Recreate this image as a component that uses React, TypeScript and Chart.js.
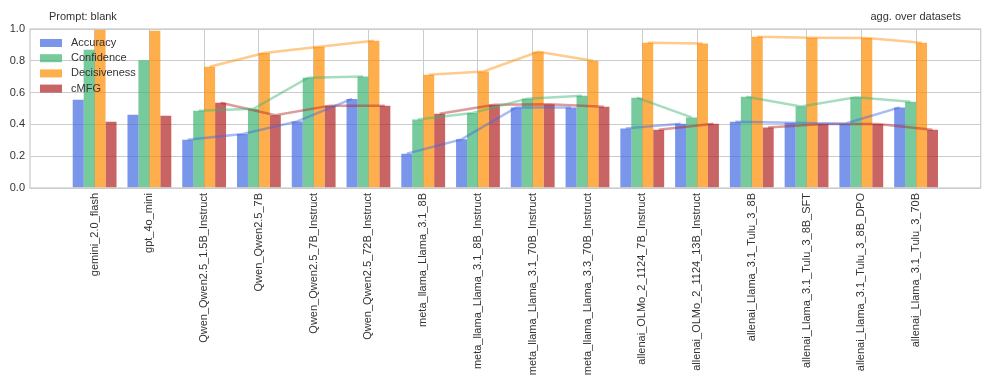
import React, { useEffect, useRef } from "react";
import { Chart, registerables } from "chart.js";

Chart.register(...registerables);

const categories = [
  "gemini_2.0_flash",
  "gpt_4o_mini",
  "Qwen_Qwen2.5_1.5B_Instruct",
  "Qwen_Qwen2.5_7B",
  "Qwen_Qwen2.5_7B_Instruct",
  "Qwen_Qwen2.5_72B_Instruct",
  "meta_llama_Llama_3.1_8B",
  "meta_llama_Llama_3.1_8B_Instruct",
  "meta_llama_Llama_3.1_70B_Instruct",
  "meta_llama_Llama_3.3_70B_Instruct",
  "allenai_OLMo_2_1124_7B_Instruct",
  "allenai_OLMo_2_1124_13B_Instruct",
  "allenai_Llama_3.1_Tulu_3_8B",
  "allenai_Llama_3.1_Tulu_3_8B_SFT",
  "allenai_Llama_3.1_Tulu_3_8B_DPO",
  "allenai_Llama_3.1_Tulu_3_70B",
];

const families = [
  "gemini", "gpt",
  "qwen", "qwen", "qwen", "qwen",
  "llama", "llama", "llama", "llama",
  "olmo", "olmo",
  "tulu", "tulu", "tulu", "tulu",
];

const accuracy = [0.555, 0.461, 0.304, 0.340, 0.419, 0.560, 0.216, 0.306, 0.507, 0.507, 0.375, 0.404, 0.417, 0.411, 0.404, 0.507];
const confidence = [0.870, 0.803, 0.486, 0.498, 0.694, 0.702, 0.431, 0.472, 0.562, 0.580, 0.568, 0.444, 0.574, 0.513, 0.570, 0.543];
const decisiveness = [0.996, 0.989, 0.763, 0.849, 0.889, 0.926, 0.713, 0.733, 0.857, 0.800, 0.913, 0.909, 0.951, 0.945, 0.943, 0.913];
const cmfg = [0.417, 0.455, 0.536, 0.457, 0.518, 0.518, 0.467, 0.524, 0.526, 0.511, 0.367, 0.404, 0.381, 0.402, 0.402, 0.367];

const seriesNames = ["Accuracy", "Confidence", "Decisiveness", "cMFG"];
const seriesValues = [accuracy, confidence, decisiveness, cmfg];
const seriesRGB = ["65,105,225", "60,179,113", "255,140,0", "178,34,34"];

const yTicks = [0, 0.2, 0.4, 0.6, 0.8, 1.0];

const leftTitle = "Prompt: blank";
const rightTitle = "agg. over datasets";

const FONT = "'Liberation Sans', Arial, sans-serif";
const TEXT = "#333333";
const GRID = "#cccccc";
const BAR_W = 0.2; // in category units (0.8 / 4)

export default function App() {
  const ref = useRef<HTMLCanvasElement | null>(null);

  useEffect(() => {
    if (!ref.current) return;

    const barSets = seriesValues.map((vals, k) => ({
      type: "bar" as const,
      label: seriesNames[k],
      data: vals.map((v, i) => ({ x: i, y: v })),
      backgroundColor: `rgba(${seriesRGB[k]},0.7)`,
      borderWidth: 0,
      categoryPercentage: 0.8,
      barPercentage: 1.0,
      order: 1,
    }));

    const lineSets = seriesValues.map((vals, k) => {
      const off = (k - 1.5) * BAR_W;
      const pts: { x: number; y: number | null }[] = [];
      vals.forEach((v, i) => {
        pts.push({ x: i + off, y: v });
        if (i < vals.length - 1 && families[i + 1] !== families[i]) {
          pts.push({ x: i + 0.5, y: null });
        }
      });
      return {
        type: "line" as const,
        label: seriesNames[k] + "_line",
        data: pts,
        borderColor: `rgba(${seriesRGB[k]},0.45)`,
        borderWidth: 2.5,
        pointRadius: 0,
        spanGaps: false,
        tension: 0,
        order: 0,
      };
    });

    const decor = {
      id: "decor",
      afterDatasetsDraw(chart: any) {
        const { ctx, chartArea: a } = chart;
        ctx.save();
        ctx.font = `11px ${FONT}`;
        ctx.textBaseline = "middle";
        ctx.textAlign = "left";
        seriesNames.forEach((name, k) => {
          const cy = a.top + 14 + k * 15.2;
          ctx.fillStyle = `rgba(${seriesRGB[k]},0.7)`;
          ctx.fillRect(a.left + 10, cy - 4, 22, 8);
          ctx.fillStyle = TEXT;
          ctx.fillText(name, a.left + 41, cy);
        });
        ctx.restore();
      },
      afterDraw(chart: any) {
        const { ctx, chartArea: a } = chart;
        ctx.save();
        ctx.strokeStyle = GRID;
        ctx.lineWidth = 1.25;
        ctx.strokeRect(a.left, a.top, a.right - a.left, a.bottom - a.top);
        ctx.font = `11px ${FONT}`;
        ctx.fillStyle = TEXT;
        ctx.textBaseline = "middle";
        ctx.textAlign = "left";
        ctx.fillText(leftTitle, 49, 17);
        ctx.textAlign = "right";
        ctx.fillText(rightTitle, 961, 17);
        ctx.restore();
      },
    };

    const chart = new Chart(ref.current, {
      data: { datasets: [...lineSets, ...barSets] as any },
      options: {
        animation: false,
        responsive: false,
        maintainAspectRatio: false,
        layout: { padding: { top: 29, right: 8.3, left: 0, bottom: 0 } },
        plugins: { legend: { display: false }, tooltip: { enabled: false }, title: { display: false } },
        scales: {
          x: {
            type: "linear",
            min: -1.18,
            max: 16.18,
            offset: false,
            grid: { color: GRID, lineWidth: 1, drawTicks: false, offset: false },
            border: { display: false },
            afterBuildTicks: (s: any) => {
              s.ticks = categories.map((_, i) => ({ value: i }));
            },
            afterFit: (s: any) => {
              s.height = 204;
            },
            ticks: {
              autoSkip: false,
              maxRotation: 90,
              minRotation: 90,
              padding: 5,
              color: TEXT,
              font: { size: 11, family: FONT },
              callback: (v: any) => categories[Math.round(Number(v))] ?? "",
            },
          },
          y: {
            type: "linear",
            min: 0,
            max: 1,
            grid: { color: GRID, lineWidth: 1, drawTicks: false },
            border: { display: false },
            afterBuildTicks: (s: any) => {
              s.ticks = yTicks.map((v) => ({ value: v }));
            },
            afterFit: (s: any) => {
              s.width = 30;
            },
            ticks: {
              padding: 5,
              color: TEXT,
              font: { size: 11, family: FONT },
              callback: (v: any) => Number(v).toFixed(1),
            },
          },
        },
      } as any,
      plugins: [decor],
    });

    return () => chart.destroy();
  }, []);

  return (
    <div style={{ position: "absolute", left: 0, top: 0, width: 989, height: 392, background: "#fff" }}>
      <canvas ref={ref} width={989} height={392} />
    </div>
  );
}
